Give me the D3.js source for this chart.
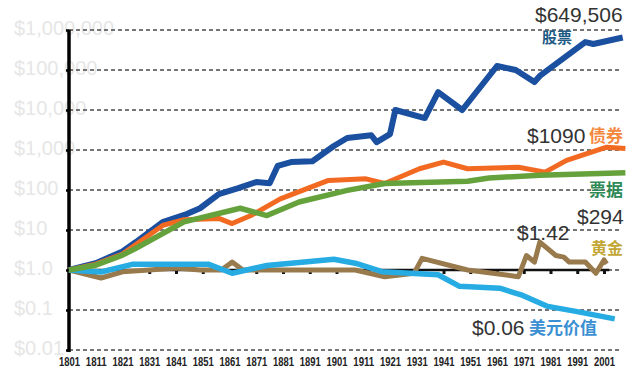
<!DOCTYPE html>
<html>
<head>
<meta charset="utf-8">
<script src="https://cdn.jsdelivr.net/npm/d3@7"></script>
<style>
  body { margin: 0; background: #fff; }
  svg { display: block; }
</style>
</head>
<body>
<div id="chart"></div>
<script>
// container
var svgWidth = 640;
var svgHeight = 384;

// data (real value of $1 invested in 1801)
var stockYears = [1801, 1811, 1821, 1826, 1836, 1845, 1850, 1857, 1864, 1871, 1876, 1879, 1884, 1892, 1900, 1905, 1914, 1916, 1921, 1923, 1934, 1939, 1948, 1961, 1968, 1975, 1977, 1994, 1997, 2008];
var stockValues = [1, 1.48, 2.9, 5, 15.8, 25, 35, 79, 110, 158, 148, 400, 500, 525, 1260, 2000, 2340, 1580, 2500, 10000, 6300, 28000, 10000, 126000, 100000, 50000, 71000, 500000, 447000, 649506];

var bondYears = [1801, 1811, 1821, 1836, 1844, 1857, 1862, 1869, 1880, 1898, 1912, 1919, 1932, 1941, 1950, 1969, 1979, 1987, 2002, 2009];
var bondValues = [1, 1.4, 2.5, 13, 18, 19.5, 14.5, 23, 60, 174, 190, 145, 340, 500, 340, 370, 280, 550, 1175, 1090];

var billYears = [1801, 1811, 1821, 1826, 1844, 1865, 1875, 1887, 1905, 1919, 1950, 1958, 1977, 2009];
var billValues = [1, 1.32, 2.35, 3.5, 16, 35, 23, 50, 98, 145, 166, 200, 234, 270];

var goldYears = [1801, 1813, 1821, 1831, 1841, 1850, 1858, 1862, 1866, 1908, 1919, 1930, 1933, 1950, 1969, 1972, 1975, 1977, 1983, 1986, 1988, 1994, 1998, 2001, 2002];
var goldValues = [1, 0.63, 0.9, 1, 1.12, 1, 1, 1.58, 1, 1, 0.68, 0.83, 1.95, 1, 0.68, 2.3, 1.58, 5, 2.3, 2.1, 1.58, 1.58, 0.83, 1.78, 1.42];

var dollarYears = [1801, 1813, 1825, 1853, 1862, 1875, 1900, 1908, 1918, 1939, 1947, 1962, 1970, 1980, 1991, 2005];
var dollarValues = [1, 0.89, 1.4, 1.4, 0.83, 1.3, 1.85, 1.48, 0.91, 0.76, 0.39, 0.35, 0.24, 0.123, 0.091, 0.06];

var yTicks = [0.01, 0.1, 1, 10, 100, 1000, 10000, 100000, 1000000];
var yTickLabels = ["$0.01", "$0.1", "$1.0", "$10", "$100", "$1,000", "$10,000", "$100,000", "$1,000,000"];
var xTicks = d3.range(1801, 2002, 10);

var series = [
  { years: stockYears, values: stockValues, color: "#1b4f9f", width: 6 },
  { years: bondYears, values: bondValues, color: "#f26a22", width: 5 },
  { years: goldYears, values: goldValues, color: "#997a4c", width: 5 },
  { years: dollarYears, values: dollarValues, color: "#26abe3", width: 5.5 },
  { years: billYears, values: billValues, color: "#66a23c", width: 5.5 }
];

var svg = d3.select("#chart")
  .append("svg")
  .attr("width", svgWidth)
  .attr("height", svgHeight);

// scales
var xScale = d3.scaleLinear()
  .domain([1801, 2001])
  .range([69, 604]);

var yScale = d3.scaleLog()
  .domain([0.01, 1000000])
  .range([350, 30]);

// y labels (faded)
svg.selectAll(".ylab")
  .data(yTicks)
  .enter()
  .append("text")
  .attr("x", 14)
  .attr("y", (d, i) => yScale(d) - 2)
  .attr("dy", "0.35em")
  .attr("font-family", "Liberation Sans, Arial, sans-serif")
  .attr("font-size", "20px")
  .attr("fill", "#e6e6e6")
  .text((d, i) => yTickLabels[i]);

// dashed gridlines
svg.selectAll(".grid")
  .data(yTicks)
  .enter()
  .append("line")
  .attr("x1", xScale(1801))
  .attr("x2", 622)
  .attr("y1", d => yScale(d))
  .attr("y2", d => yScale(d))
  .attr("stroke", "#4a4a4a")
  .attr("stroke-width", 1.4)
  .attr("stroke-dasharray", "4,3");

// $1 baseline axis with small ticks
var baseAxis = d3.axisBottom(xScale)
  .tickValues(xTicks.filter(d => d > 1801))
  .tickSize(4)
  .tickFormat("");

var baseG = svg.append("g")
  .attr("transform", `translate(0, ${yScale(1)})`)
  .call(baseAxis);
baseG.select(".domain")
  .attr("d", `M${xScale(1801)},0H${xScale(2003)}`)
  .attr("stroke", "#111")
  .attr("stroke-width", 2.5);
baseG.selectAll(".tick line")
  .attr("stroke", "#111")
  .attr("stroke-width", 3);

// year labels (condensed)
var bottomAxis = d3.axisBottom(xScale)
  .tickValues(xTicks)
  .tickSize(0)
  .tickPadding(5)
  .tickFormat(d3.format("d"));

var bottomG = svg.append("g")
  .attr("transform", `translate(0, 352)`)
  .call(bottomAxis);
bottomG.select(".domain").remove();
bottomG.selectAll("text")
  .attr("font-family", "Liberation Sans, Arial, sans-serif")
  .attr("font-weight", "bold")
  .attr("font-size", "13px")
  .attr("fill", "#222")
  .attr("textLength", 21)
  .attr("lengthAdjust", "spacingAndGlyphs");

// left axis
var leftAxis = d3.axisLeft(yScale)
  .tickValues(yTicks)
  .tickSize(3)
  .tickFormat("");

var leftG = svg.append("g")
  .attr("transform", `translate(${xScale(1801)}, 0)`)
  .call(leftAxis);
leftG.select(".domain")
  .attr("d", `M0,${yScale(1000000)}V${yScale(0.01) + 2}`)
  .attr("stroke", "#000")
  .attr("stroke-width", 3.5);
leftG.selectAll(".tick line")
  .attr("stroke", "#000")
  .attr("stroke-width", 2.5);

// lines
var line = d3.line()
  .x(d => xScale(d[0]))
  .y(d => yScale(d[1]))
  .curve(d3.curveLinear);

series.forEach(function(s) {
  var pts = s.years.map((y, i) => [y, s.values[i]]);
  svg.append("path")
    .datum(pts)
    .attr("d", line)
    .attr("fill", "none")
    .attr("stroke", s.color)
    .attr("stroke-width", s.width)
    .attr("stroke-linejoin", "round");
});

// annotations
var numFont = "Liberation Sans, Arial, sans-serif";
var cjkFont = "Noto Sans CJK SC, sans-serif";

function note(x, y, txt, size, color, font, weight) {
  svg.append("text")
    .attr("x", x)
    .attr("y", y)
    .attr("dy", "0.35em")
    .attr("font-family", font)
    .attr("font-size", size)
    .attr("font-weight", weight || "normal")
    .attr("fill", color)
    .text(txt);
}

note(535, 15, "$649,506", "21px", "#333", numFont);
note(542, 38, "股票", "15px", "#1d5b85", cjkFont, "bold");
note(527, 136, "$1090", "21px", "#333", numFont);
note(589, 136, "债券", "17px", "#f4883e", cjkFont, "bold");
note(589, 190, "票据", "17px", "#2f8a58", cjkFont, "bold");
note(577, 217, "$294", "21px", "#333", numFont);
note(517, 233, "$1.42", "21px", "#333", numFont);
note(591, 248, "黄金", "16px", "#c2a735", cjkFont, "bold");
note(472, 328, "$0.06", "21px", "#333", numFont);
note(529, 328, "美元价值", "17px", "#3b8fd2", cjkFont, "bold");
</script>
</body>
</html>
